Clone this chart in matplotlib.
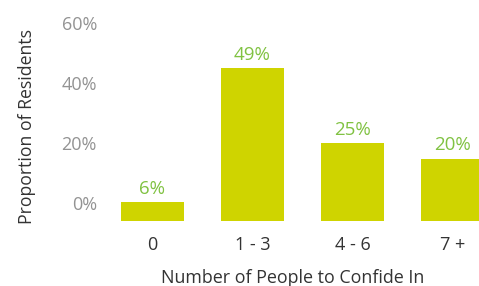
import matplotlib.pyplot as plt

categories = ['0', '1 - 3', '4 - 6', '7 +']
values = [6, 49, 25, 20]
tick_values = [0, 20, 40, 60]

plt.rcParams['font.family'] = ['Open Sans', 'DejaVu Sans']

W, H = 479, 286
fig = plt.figure(figsize=(W / 100, H / 100), dpi=100)

# axes in pixels: left 102.5, bottom 65, width 400, height 211
rect = [102.5 / W, 65 / H, 400 / W, 211 / H]

# scale axis for the percent labels (3 px per %)
axt = fig.add_axes(rect)
axt.set_ylim(-6, -6 + 211 / 3)
axt.set_xlim(-0.5, 3.5)
axt.set_yticks(tick_values)
axt.set_yticklabels([f'{v}%' for v in tick_values], color='#939393', fontsize=13)
axt.tick_params(axis='y', length=0, pad=4)
axt.set_xticks([])
for s in axt.spines.values():
    s.set_visible(False)
axt.patch.set_visible(False)

# bar axis (bars drawn on their own baseline)
ax = fig.add_axes(rect)
ax.patch.set_visible(False)
x = range(len(categories))
ax.bar(x, values, width=0.63, color='#cfd400')
ax.set_xlim(-0.5, 3.5)
ax.set_ylim(0, 211 / 3.12)
ax.set_yticks([])
ax.set_xticks(list(x))
ax.set_xticklabels(categories, color='#333333', fontsize=13)
ax.tick_params(axis='x', length=0, pad=11)
for s in ax.spines.values():
    s.set_visible(False)

for xi, v in zip(x, values):
    ax.annotate(f'{v}%', (xi, v), xytext=(0, 3), textcoords='offset points',
                ha='center', va='bottom', color='#80c242', fontsize=13.5)

fig.text(293 / W, 1 - 278 / H, 'Number of People to Confide In',
         ha='center', va='center', color='#333333', fontsize=12.9)
fig.text(27 / W, 1 - 126 / H, 'Proportion of Residents', rotation=90,
         ha='center', va='center', color='#333333', fontsize=12.7)

fig.savefig('out.png', dpi=100)
